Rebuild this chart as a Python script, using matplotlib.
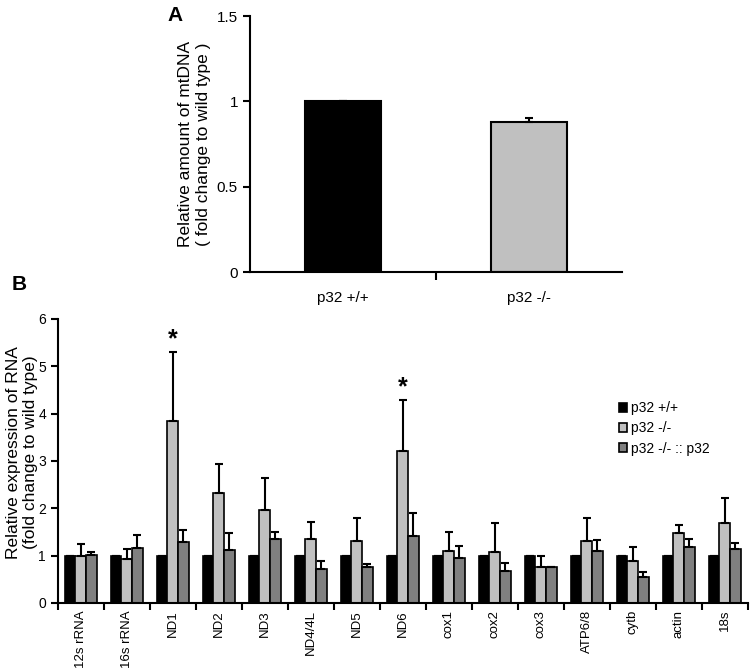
import numpy as np
import matplotlib.pyplot as plt

plt.rcParams['font.family'] = ['Liberation Sans', 'DejaVu Sans']

# panel A data
a_groups = ['p32 +/+', 'p32 -/-']
a_values = [1.0, 0.88]
a_errors = [0.0, 0.02]
a_colors = ['#000000', '#c0c0c0']

# panel B data
genes = ['12s rRNA', '16s rRNA', 'ND1', 'ND2', 'ND3', 'ND4/4L', 'ND5', 'ND6',
         'cox1', 'cox2', 'cox3', 'ATP6/8', 'cytb', 'actin', '18s']
series_names = ['p32 +/+', 'p32 -/-', 'p32 -/- :: p32']
series_colors = ['#000000', '#c0c0c0', '#808080']
wt = [1.0] * 15
wt_err = [0.0] * 15
ko = [1.00, 0.93, 3.85, 2.33, 1.97, 1.35, 1.30, 3.20, 1.09, 1.07, 0.76, 1.30, 0.88, 1.48, 1.70]
ko_err = [0.24, 0.22, 1.45, 0.60, 0.68, 0.37, 0.49, 1.08, 0.40, 0.62, 0.24, 0.50, 0.31, 0.16, 0.52]
resc = [1.02, 1.17, 1.28, 1.12, 1.36, 0.72, 0.75, 1.41, 0.96, 0.67, 0.75, 1.09, 0.54, 1.18, 1.14]
resc_err = [0.05, 0.26, 0.26, 0.35, 0.14, 0.17, 0.08, 0.50, 0.25, 0.17, 0.0, 0.24, 0.12, 0.18, 0.13]
stars = ['ND1', 'ND6']

fig = plt.figure(figsize=(7.5, 6.7), dpi=100)

# ---- panel A ----
axa = fig.add_axes([0.333, 0.594, 0.496, 0.382])
xa = np.arange(len(a_groups))
axa.bar(xa, a_values, width=0.41, color=a_colors, edgecolor='black', linewidth=1.5,
        yerr=[np.zeros(2), a_errors], error_kw=dict(ecolor='black', elinewidth=1.5, capsize=3, capthick=1.5))
axa.set_xlim(-0.5, 1.5)
axa.set_ylim(0, 1.5)
axa.set_yticks([0, 0.5, 1, 1.5])
axa.set_yticklabels(['0', '0.5', '1', '1.5'])
axa.set_xticks(xa)
axa.set_xticklabels(a_groups)
axa.set_xticks([0.5], minor=True)
axa.tick_params(axis='x', which='major', length=0, pad=14, labelsize=11)
axa.tick_params(axis='x', which='minor', length=6, width=1.5, direction='out')
axa.tick_params(axis='y', length=5, width=1.5, direction='out', labelsize=11)
for s in ['top', 'right']:
    axa.spines[s].set_visible(False)
for s in ['left', 'bottom']:
    axa.spines[s].set_linewidth(1.5)
axa.set_ylabel('Relative amount of mtDNA\n( fold change to wild type )', fontsize=12.5)
axa.yaxis.set_label_coords(-0.105, 0.5)
fig.text(0.233, 0.977, 'A', fontsize=15, fontweight='bold', ha='center', va='center')

# ---- panel B ----
axb = fig.add_axes([0.077, 0.1, 0.92, 0.424])
x = np.arange(len(genes))
w = 0.23
data = [(wt, wt_err), (ko, ko_err), (resc, resc_err)]
for i, (vals, errs) in enumerate(data):
    axb.bar(x + (i - 1) * w, vals, width=w, color=series_colors[i], edgecolor='black',
            linewidth=1.2, label=series_names[i],
            yerr=[np.zeros(len(vals)), errs],
            error_kw=dict(ecolor='black', elinewidth=1.5, capsize=3, capthick=1.5))
for g in stars:
    k = genes.index(g)
    axb.text(x[k], ko[k] + ko_err[k] + 0.02, '*', ha='center', va='bottom',
             fontsize=18, fontweight='bold')
axb.set_xlim(-0.5, len(genes) - 0.5)
axb.set_ylim(0, 6)
axb.set_yticks(range(7))
axb.set_xticks(x)
axb.set_xticklabels(genes, rotation=90)
axb.set_xticks(np.arange(len(genes) + 1) - 0.5, minor=True)
axb.tick_params(axis='x', which='major', length=0, pad=5, labelsize=9.5)
axb.tick_params(axis='x', which='minor', length=5, width=1.5, direction='out')
axb.tick_params(axis='y', length=5, width=1.5, direction='out', labelsize=10)
for s in ['top', 'right']:
    axb.spines[s].set_visible(False)
for s in ['left', 'bottom']:
    axb.spines[s].set_linewidth(1.5)
axb.set_ylabel('Relative expression of RNA\n(fold change to wild type)', fontsize=12.5)
axb.yaxis.set_label_coords(-0.028, 0.53)
leg = axb.legend(loc='upper left', bbox_to_anchor=(0.795, 0.755), frameon=False, fontsize=10,
                 handlelength=0.6, handleheight=0.6, handletextpad=0.25, labelspacing=0.45)
fig.text(0.025, 0.575, 'B', fontsize=15, fontweight='bold', ha='center', va='center')

fig.savefig('out.png', dpi=100)
